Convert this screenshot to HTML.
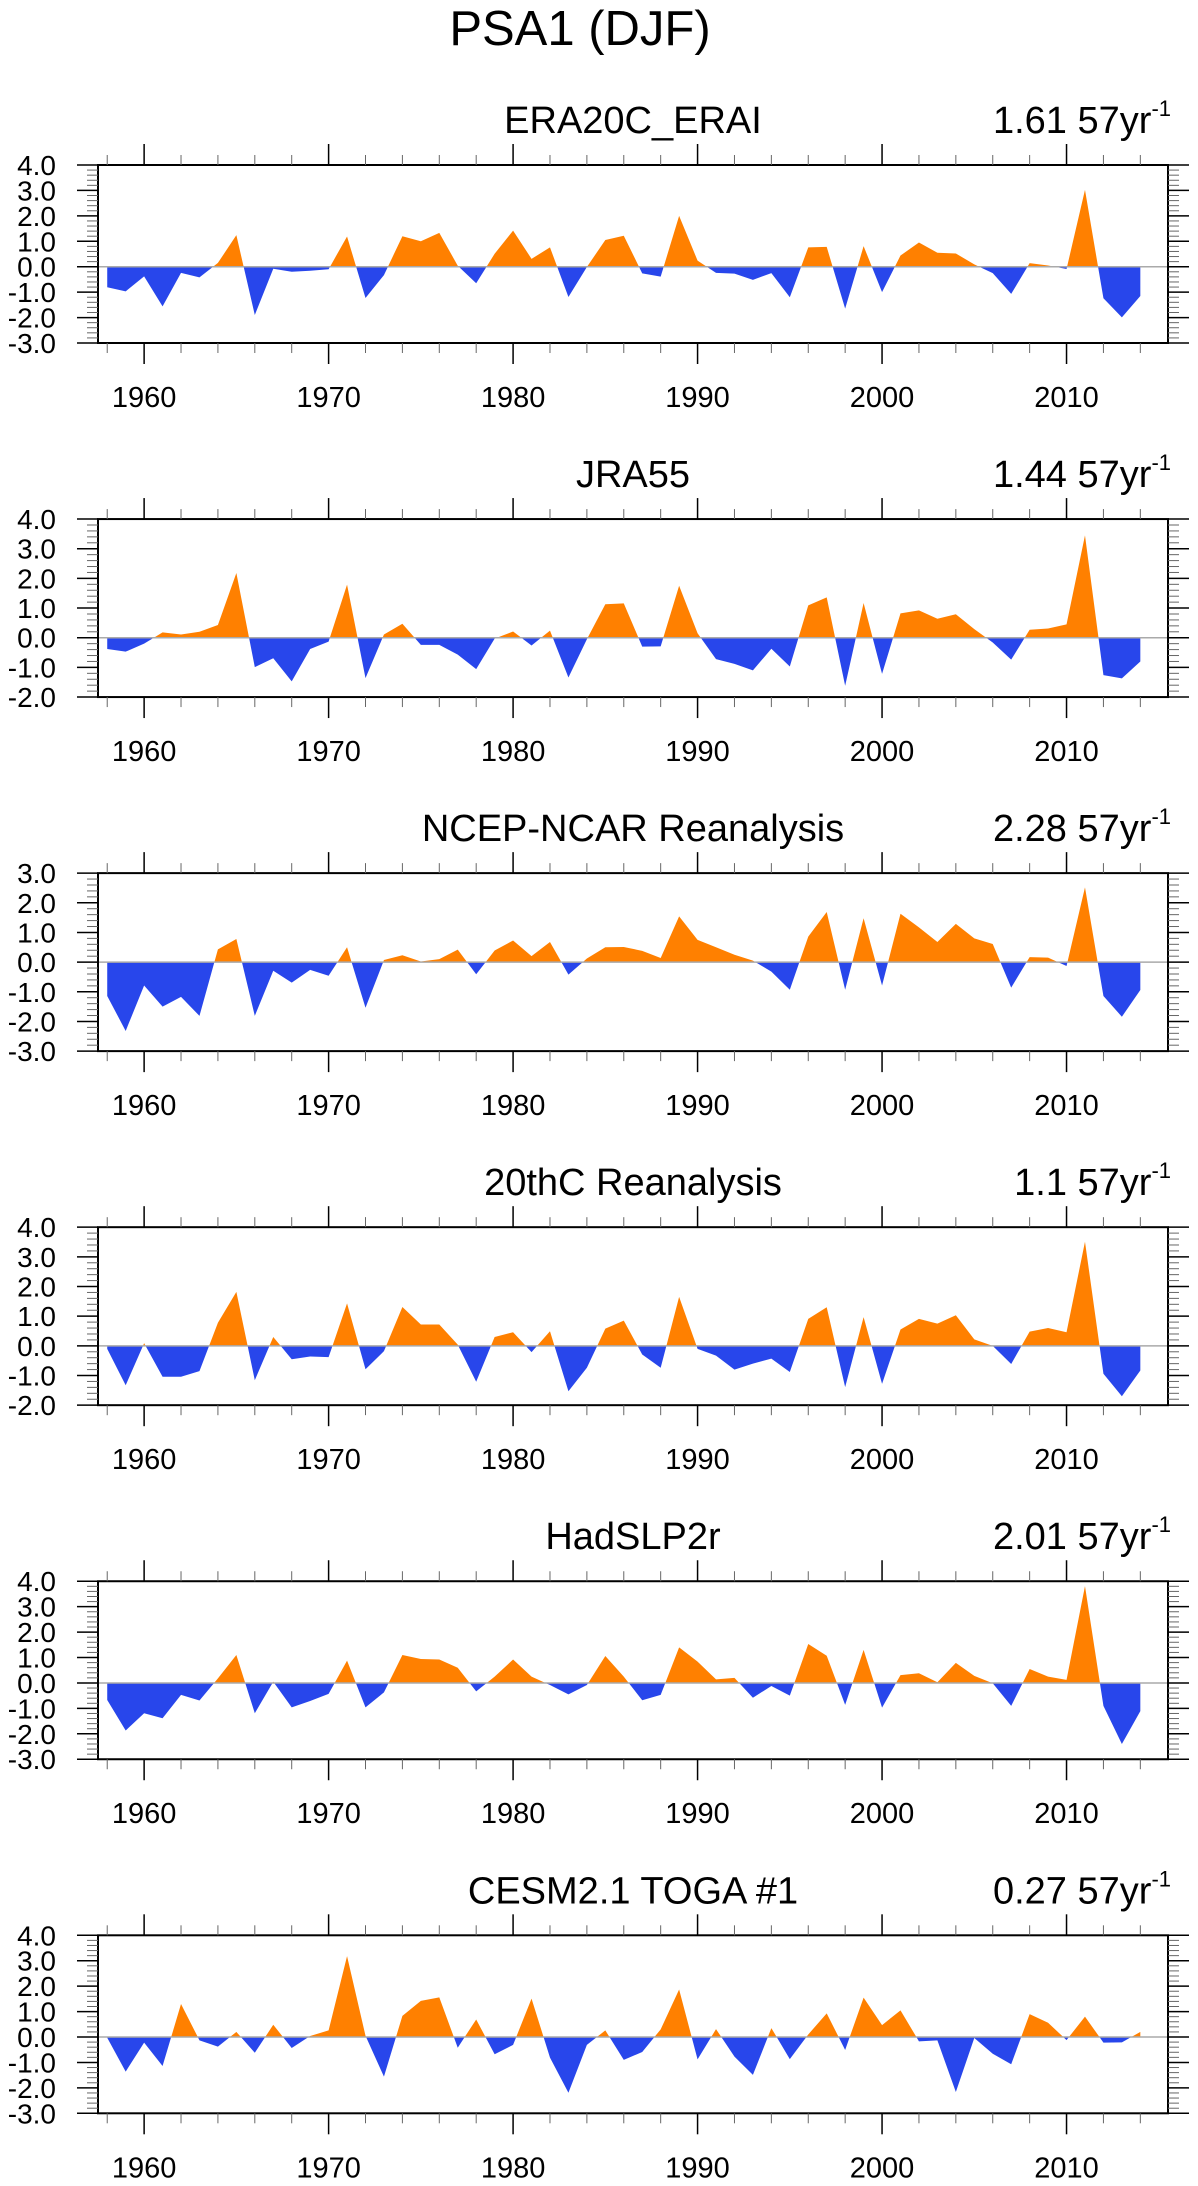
<!DOCTYPE html>
<html><head><meta charset="utf-8"><style>
html,body{margin:0;padding:0;background:#fff;}
svg{display:block;font-family:"Liberation Sans",Arial,sans-serif;}
</style></head><body>
<svg id="fig" width="1198" height="2186" viewBox="0 0 1198 2186" xmlns="http://www.w3.org/2000/svg">
<text x="580" y="45" font-size="49" text-anchor="middle">PSA1 (DJF)</text>
</svg>
<script>
const years = []; for (let y = 1958; y <= 2014; y++) years.push(y);
const panelNames = ["ERA20C_ERAI","JRA55","NCEP-NCAR Reanalysis","20thC Reanalysis","HadSLP2r","CESM2.1 TOGA #1"];
const trendLabels = ["1.61","1.44","2.28","1.1","2.01","0.27"];
const yMins = [-3,-2,-3,-2,-3,-3];
const yMaxs = [4,4,3,4,4,4];
const xTickYears = [1960,1970,1980,1990,2000,2010];
const s1 = [-0.81,-0.97,-0.38,-1.56,-0.24,-0.42,0.15,1.24,-1.9,-0.08,-0.2,-0.16,-0.1,1.19,-1.23,-0.33,1.2,1.0,1.33,0.04,-0.65,0.51,1.42,0.31,0.76,-1.19,-0.01,1.05,1.22,-0.26,-0.39,2.0,0.24,-0.24,-0.27,-0.52,-0.25,-1.2,0.76,0.78,-1.65,0.81,-1.0,0.44,0.95,0.55,0.52,0.09,-0.25,-1.07,0.14,0.05,-0.09,3.02,-1.24,-1.99,-1.15];
const s2 = [-0.38,-0.47,-0.2,0.18,0.11,0.2,0.43,2.18,-0.99,-0.69,-1.47,-0.38,-0.13,1.79,-1.36,0.11,0.47,-0.24,-0.24,-0.57,-1.06,-0.03,0.21,-0.26,0.24,-1.34,-0.05,1.13,1.16,-0.3,-0.29,1.75,0.15,-0.72,-0.88,-1.1,-0.37,-0.97,1.09,1.36,-1.62,1.17,-1.22,0.82,0.92,0.64,0.79,0.29,-0.16,-0.74,0.27,0.31,0.45,3.45,-1.26,-1.37,-0.8];
const s3 = [-1.14,-2.32,-0.79,-1.5,-1.17,-1.81,0.43,0.78,-1.81,-0.29,-0.69,-0.26,-0.46,0.5,-1.54,0.07,0.23,0.02,0.1,0.42,-0.41,0.39,0.73,0.2,0.68,-0.42,0.12,0.5,0.51,0.38,0.14,1.54,0.75,0.5,0.25,0.05,-0.32,-0.93,0.86,1.69,-0.93,1.48,-0.79,1.63,1.17,0.68,1.29,0.8,0.61,-0.86,0.17,0.15,-0.13,2.52,-1.14,-1.84,-0.94];
const s4 = [-0.1,-1.33,0.09,-1.04,-1.04,-0.85,0.78,1.82,-1.16,0.3,-0.45,-0.36,-0.38,1.43,-0.79,-0.18,1.31,0.72,0.72,0.04,-1.21,0.3,0.46,-0.21,0.49,-1.53,-0.74,0.58,0.85,-0.29,-0.74,1.65,-0.1,-0.33,-0.8,-0.6,-0.43,-0.88,0.91,1.3,-1.39,0.97,-1.28,0.55,0.91,0.75,1.03,0.22,0.0,-0.61,0.48,0.6,0.46,3.51,-0.94,-1.7,-0.83];
const s5 = [-0.67,-1.87,-1.19,-1.39,-0.47,-0.69,0.18,1.1,-1.19,0.05,-0.96,-0.71,-0.43,0.88,-0.96,-0.37,1.1,0.94,0.92,0.6,-0.33,0.25,0.92,0.25,-0.08,-0.45,-0.08,1.06,0.25,-0.68,-0.47,1.4,0.84,0.14,0.2,-0.58,-0.12,-0.5,1.53,1.07,-0.86,1.3,-0.97,0.31,0.38,0.03,0.79,0.28,-0.01,-0.9,0.55,0.25,0.12,3.81,-0.9,-2.4,-1.11];
const s6 = [-0.03,-1.36,-0.22,-1.14,1.3,-0.13,-0.38,0.2,-0.62,0.48,-0.43,0.04,0.26,3.18,0.05,-1.56,0.83,1.42,1.56,-0.42,0.69,-0.68,-0.31,1.51,-0.81,-2.19,-0.31,0.26,-0.9,-0.59,0.3,1.87,-0.88,0.31,-0.77,-1.49,0.35,-0.87,0.1,0.93,-0.51,1.55,0.47,1.05,-0.17,-0.13,-2.16,-0.04,-0.66,-1.07,0.9,0.56,-0.12,0.8,-0.22,-0.21,0.2];
const seriesList = [s1,s2,s3,s4,s5,s6];

const NS = "http://www.w3.org/2000/svg";
const svg = document.getElementById("fig");
const L = 98, R = 1168, H = 178, X0 = 1957.5, X1 = 2015.5;
function mk(tag, attrs, parent) {
  const e = document.createElementNS(NS, tag);
  for (const k in attrs) e.setAttribute(k, attrs[k]);
  (parent || svg).appendChild(e);
  return e;
}
function xs(yr) { return L + (yr - X0) / (X1 - X0) * (R - L); }

for (let p = 0; p < 6; p++) {
  const top = 165 + p * 354.06, bot = top + H;
  const ymin = yMins[p], ymax = yMaxs[p];
  const ys = v => bot - (v - ymin) / (ymax - ymin) * H;
  const g = mk("g", {});
  
  

  const t = mk("text", {x: 633, y: top - 32, "font-size": 38, "text-anchor": "middle"}, g);
  t.textContent = panelNames[p];
  
  

  const tr = mk("text", {x: 1171, y: top - 32, "font-size": 38, "text-anchor": "end"}, g);
  
  
  const ts1 = mk("tspan", {}, tr); ts1.textContent = trendLabels[p] + " 57yr";
  const ts2 = mk("tspan", {"font-size": 22, dy: -17}, tr); ts2.textContent = "-1";

  const vals = seriesList[p];
  const pos = [], neg = [];
  const z = ys(0);
  pos.push([xs(years[0]), z]); neg.push([xs(years[0]), z]);
  for (let i = 0; i < vals.length; i++) {
    const v = vals[i], x = xs(years[i]);
    if (i > 0) {
      const u = vals[i - 1];
      if ((u > 0 && v < 0) || (u < 0 && v > 0)) {
        const xc = xs(years[i - 1] + u / (u - v));
        pos.push([xc, z]); neg.push([xc, z]);
      }
    }
    pos.push([x, ys(Math.max(v, 0))]);
    neg.push([x, ys(Math.min(v, 0))]);
  }
  pos.push([xs(years[years.length - 1]), z]); neg.push([xs(years[years.length - 1]), z]);
  const pp = mk("polygon", {points: pos.map(q => q.join(",")).join(" "), fill: "#FF8000"}, g);
  
  
  const np = mk("polygon", {points: neg.map(q => q.join(",")).join(" "), fill: "#2846EB"}, g);
  
  
  const zl = mk("line", {x1: L, x2: R, y1: z, y2: z, stroke: "#aaa", "stroke-width": 1.5}, g);
  
  

  const fr = mk("rect", {x: L, y: top, width: R - L, height: H, fill: "none", stroke: "#000", "stroke-width": 2}, g);
  
  

  for (let yr = 1958; yr <= 2014; yr += 2) {
    const major = yr % 10 === 0, len = major ? 21 : 10, x = xs(yr);
    mk("line", {x1: x, x2: x, y1: top, y2: top - len, stroke: major ? "#000" : "#666", "stroke-width": major ? 1.5 : 1}, g);
    mk("line", {x1: x, x2: x, y1: bot, y2: bot + len, stroke: major ? "#000" : "#666", "stroke-width": major ? 1.5 : 1}, g);
  }
  for (const yr of xTickYears) {
    const xl = mk("text", {x: xs(yr), y: bot + 64, "font-size": 29, "text-anchor": "middle"}, g);
    xl.textContent = String(yr);
    
    
  }
  for (let k = Math.round(ymin * 5); k <= Math.round(ymax * 5); k++) {
    const v = k / 5, y = ys(v), major = k % 5 === 0, len = major ? 21 : 11;
    mk("line", {x1: L, x2: L - len, y1: y, y2: y, stroke: major ? "#000" : "#666", "stroke-width": major ? 1.5 : 1}, g);
    mk("line", {x1: R, x2: R + len, y1: y, y2: y, stroke: major ? "#000" : "#666", "stroke-width": major ? 1.5 : 1}, g);
    if (major) {
      const yl = mk("text", {x: 56, y: y + 10, "font-size": 28, "text-anchor": "end"}, g);
      yl.textContent = v.toFixed(1);
      
      
    }
  }
}
</script>
</body></html>
